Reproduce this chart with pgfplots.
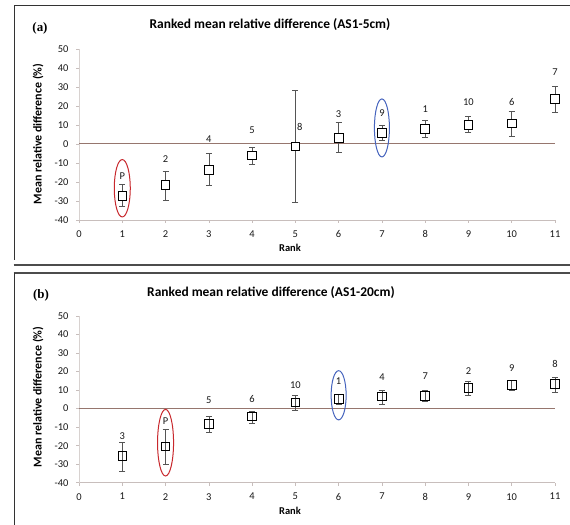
\documentclass[border=0pt]{standalone}
\usepackage{pgfplots}
\pgfplotsset{compat=1.18}
\usepackage{pgfplotstable}
\usepackage{fontspec}
\setmainfont{Carlito}
\newfontfamily\serifbf{Liberation Serif}

\definecolor{zeroline}{RGB}{150,118,110}
\definecolor{axgray}{RGB}{200,190,188}
\definecolor{ellred}{RGB}{200,40,45}
\definecolor{ellblue}{RGB}{70,100,190}
\definecolor{errgray}{RGB}{85,85,85}

\pgfplotstableread{
x y ep em
1 -27.3 5.9 5.6
2 -21.6 7.3 7.8
3 -13.7 8.7 8.2
4 -6.1 4.2 4.5
5 -1.2 29.7 29.6
6 3.3 8.2 7.5
7 5.9 4.2 4.2
8 7.8 4.9 4.5
9 10.1 4.7 4.2
10 10.8 6.6 6.6
11 23.8 6.8 7.3
}\dataA

\pgfplotstableread{
x y lab
1 -16.7 P
2 -7.7 2
3 2.3 4
4 7.5 5
5.1 9.2 8
6 15.5 3
7 16.2 9
8 18.4 1
9 21.9 10
10 22.3 6
11 38 7
}\labA

\pgfplotstableread{
x y ep em
1 -25.4 7.0 8.3
2 -20.4 9.2 9.5
3 -8.3 4.3 4.3
4 -4.3 3.0 3.6
5 3.4 4.0 4.3
6 5.2 2.5 2.7
7 6.5 3.6 4.0
8 6.8 3.3 3.0
9 11.2 3.8 3.8
10 12.8 2.7 2.7
11 13.2 3.7 4.2
}\dataB

\pgfplotstableread{
x y lab
1 -14.8 3
2 -7.0 P
3 4.3 5
4 5.4 6
5 12.6 10
6 14.6 1
7 16.8 4
8 17.7 7
9 20.4 2
10 21.8 9
11 24 8
}\labB

\pgfplotsset{
  rmd/.style={
    scale only axis,
    width=476bp,
    xmin=0, xmax=11, ymin=-40, ymax=50,
    xtick={0,1,...,11},
    ytick={-40,-30,...,50},
    axis x line*=bottom,
    axis y line*=left,
    x axis line style={axgray, line width=0.8bp},
    y axis line style={axgray!70, line width=0.8bp},
    tick align=outside,
    major tick length=3bp,
    tick style={axgray, line width=0.6bp},
    /pgf/number format/assume math mode=true,
    ticklabel style={font=\fontsize{10.5}{12}\selectfont, text=black!90},
    yticklabel style={xshift=-4bp},
    xticklabel style={yshift=-4bp},
    clip=false,
  },
  ebars/.style={
    only marks, mark=square*, mark size=4.3bp,
    mark options={draw=black, fill=white, line width=0.8bp},
    error bars/y dir=both, error bars/y explicit,
    error bars/error bar style={errgray, line width=0.6bp},
    error bars/error mark options={rotate=90, mark size=3bp, errgray, line width=0.6bp},
  },
  labs/.style={
    only marks, mark=none,
    nodes near coords, point meta=explicit symbolic,
    every node near coord/.append style={anchor=center, font=\fontsize{10.5}{12}\selectfont, text=black!90},
  },
}

\begin{document}
\begin{tikzpicture}
\path[use as bounding box] (0bp,0bp) rectangle (570bp,525bp);
\clip (0bp,0bp) rectangle (570bp,525bp);
\fill[white] (0bp,0bp) rectangle (570bp,525bp);

% frames
\draw[black!80, line width=0.8bp] (580bp,520bp) -- (14bp,520bp) -- (14bp,264.5bp);
\draw[black!70, line width=1.8bp] (13.5bp,260bp) -- (580bp,260bp);
\draw[black!70, line width=1.8bp] (13.5bp,252bp) -- (580bp,252bp);
\draw[black!80, line width=0.8bp] (14bp,252bp) -- (14bp,-5bp);

% panel (a)
\node[font=\serifbf\bfseries\fontsize{13}{14}\selectfont] at (40bp,497bp) {(a)};
\node[font=\bfseries\fontsize{13.5}{15}\selectfont] at (270bp,500bp) {Ranked mean relative difference (AS1-5cm)};
\node[font=\bfseries\fontsize{12}{13}\selectfont, rotate=90] at (38bp,391bp) {Mean relative difference (\%)};
\node[font=\bfseries\fontsize{10.5}{12}\selectfont] at (290bp,277bp) {Rank};

\begin{axis}[rmd, at={(79bp,305bp)}, anchor=south west, height=171bp]
\addplot[zeroline, line width=1bp, mark=none] coordinates {(0,0) (11,0)};
\addplot[ebars] table[x=x, y=y, y error plus=ep, y error minus=em] {\dataA};
\addplot[labs] table[x=x, y=y, meta=lab] {\labA};
\draw[ellred, line width=1bp] (axis cs:1,-23.3) ellipse [x radius=8bp, y radius=28.7bp];
\draw[ellblue, line width=1bp] (axis cs:7,8.45) ellipse [x radius=7.5bp, y radius=29bp];
\end{axis}

% panel (b)
\node[font=\serifbf\bfseries\fontsize{13}{14}\selectfont] at (41bp,230bp) {(b)};
\node[font=\bfseries\fontsize{13.5}{15}\selectfont] at (271bp,232bp) {Ranked mean relative difference (AS1-20cm)};
\node[font=\bfseries\fontsize{12}{13}\selectfont, rotate=90] at (38bp,128bp) {Mean relative difference (\%)};
\node[font=\bfseries\fontsize{10.5}{12}\selectfont] at (290bp,14bp) {Rank};

\begin{axis}[rmd, at={(79bp,42.3bp)}, anchor=south west, height=166.7bp]
\addplot[zeroline, line width=1bp, mark=none] coordinates {(0,0) (11,0)};
\addplot[ebars, mark=square, mark options={draw=black, fill=none, line width=0.8bp}] table[x=x, y=y, y error plus=ep, y error minus=em] {\dataB};
\addplot[labs] table[x=x, y=y, meta=lab] {\labB};
\draw[ellred, line width=1bp] (axis cs:2,-18.4) ellipse [x radius=8bp, y radius=33.3bp];
\draw[ellblue, line width=1bp] (axis cs:6,7.2) ellipse [x radius=7.5bp, y radius=24.6bp];
\end{axis}
\end{tikzpicture}
\end{document}
